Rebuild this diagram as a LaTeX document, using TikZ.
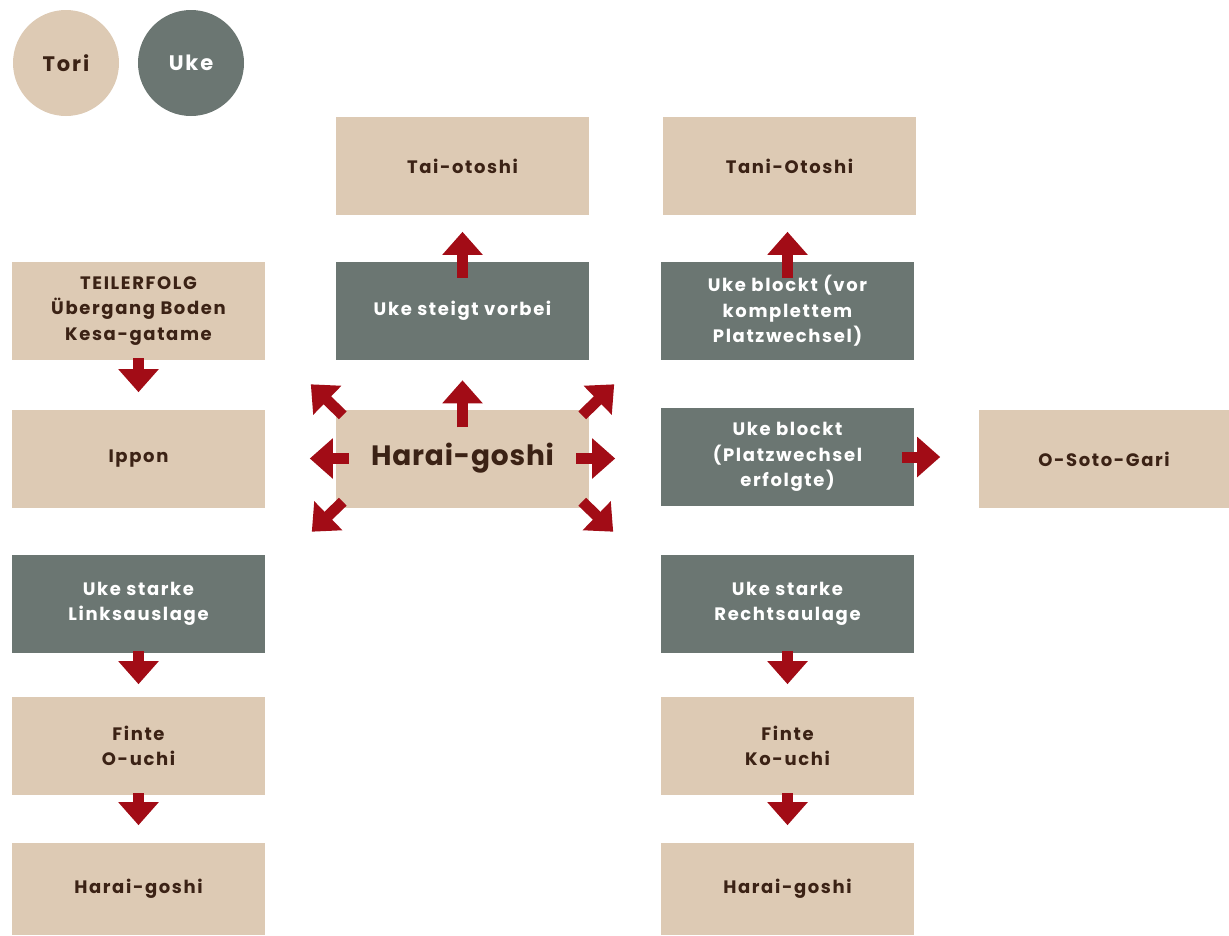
\documentclass[tikz,border=0pt]{standalone}
\usepackage{fontspec}
\setmainfont{Poppins}[LetterSpace=9]
\usetikzlibrary{arrows.meta,calc}
\definecolor{sand}{HTML}{DDCAB4}
\definecolor{slate}{HTML}{6B7672}
\definecolor{judored}{HTML}{A20C16}
\definecolor{bark}{HTML}{3B2215}
\tikzstyle{toribox}=[fill=sand,text=bark,minimum width=253pt,minimum height=98pt,inner sep=0pt,align=center,font=\bfseries\fontsize{18}{25.5}\selectfont]
\tikzstyle{ukebox}=[toribox,fill=slate,text=white]
\tikzstyle{badge}=[circle,minimum size=106pt,inner sep=0pt,font=\bfseries\fontsize{21}{24}\selectfont]
\tikzstyle{flow}=[draw=judored,line width=11pt,-{Triangle[width=39pt,length=23pt]}]

\begin{document}
\begin{tikzpicture}[x=1pt,y=-1pt]
\useasboundingbox (0,0) rectangle (1229,935);
% legend
\node[badge,fill=sand,text=bark] (Tori) at (66,63) {Tori};
\node[badge,fill=slate,text=white] (Uke) at (191,63) {Uke};
% middle column
\node[toribox] (TaiOtoshi) at (462.5,166) {Tai-otoshi};
\node[ukebox] (Vorbei) at (462.5,311) {Uke steigt vorbei};
\node[toribox,font=\bfseries\fontsize{28}{32}\selectfont\addfontfeatures{LetterSpace=3}] (Harai) at (462.5,458.5) {Harai-goshi};
% left column
\node[toribox] (Teil) at (138.5,311) {TEILERFOLG\\Übergang Boden\\Kesa-gatame};
\node[toribox] (Ippon) at (138.5,458.5) {Ippon};
\node[ukebox] (Links) at (138.5,604) {Uke starke\\Linksauslage};
\node[toribox] (OUchi) at (138.5,746) {Finte\\O-uchi};
\node[toribox,minimum height=92pt] (HaraiL) at (138.5,889) {Harai-goshi};
% right column
\node[toribox] (TaniOtoshi) at (789.5,166) {Tani-Otoshi};
\node[ukebox] (BlocktVor) at (787.5,311) {Uke blockt (vor\\komplettem\\Platzwechsel)};
\node[ukebox] (Blockt) at (787.5,457) {Uke blockt\\(Platzwechsel\\erfolgte)};
\node[toribox,minimum width=250pt] (OSoto) at (1104,459) {O-Soto-Gari};
\node[ukebox] (Rechts) at (787.5,604) {Uke starke\\Rechtsaulage};
\node[toribox] (KoUchi) at (787.5,746) {Finte\\Ko-uchi};
\node[toribox,minimum height=92pt] (HaraiR) at (787.5,889) {Harai-goshi};
% arrows
\draw[flow] ($(Vorbei.north)+(0,16)$) -- ($(Vorbei.north)+(0,-30)$);
\draw[flow] ($(BlocktVor.north)+(0,16)$) -- ($(BlocktVor.north)+(0,-30)$);
\draw[flow] ($(Harai.north)+(0,18)$) -- ($(Harai.north)+(0,-29)$);
\draw[flow] ($(Harai.east)+(-13,0)$) -- ($(Harai.east)+(26,0)$);
\draw[flow] ($(Harai.west)+(13,0)$) -- ($(Harai.west)+(-26,0)$);
\draw[flow] ($(Harai.north west)+(7,6)$) -- ($(Harai.north west)+(-25,-25)$);
\draw[flow] ($(Harai.north east)+(-7,6)$) -- ($(Harai.north east)+(25,-25)$);
\draw[flow] ($(Harai.south west)+(7,-6)$) -- ($(Harai.south west)+(-24,24)$);
\draw[flow] ($(Harai.south east)+(-7,-6)$) -- ($(Harai.south east)+(24,24)$);
\draw[flow] ($(Blockt.east)+(-12,0)$) -- ($(Blockt.east)+(26,0)$);
\draw[flow] ($(Teil.south)+(0,-2)$) -- ($(Teil.south)+(0,32)$);
\draw[flow] ($(Links.south)+(0,-2)$) -- ($(Links.south)+(0,31)$);
\draw[flow] ($(OUchi.south)+(0,-2)$) -- ($(OUchi.south)+(0,30)$);
\draw[flow] ($(Rechts.south)+(0,-2)$) -- ($(Rechts.south)+(0,31)$);
\draw[flow] ($(KoUchi.south)+(0,-2)$) -- ($(KoUchi.south)+(0,30)$);
\end{tikzpicture}
\end{document}
